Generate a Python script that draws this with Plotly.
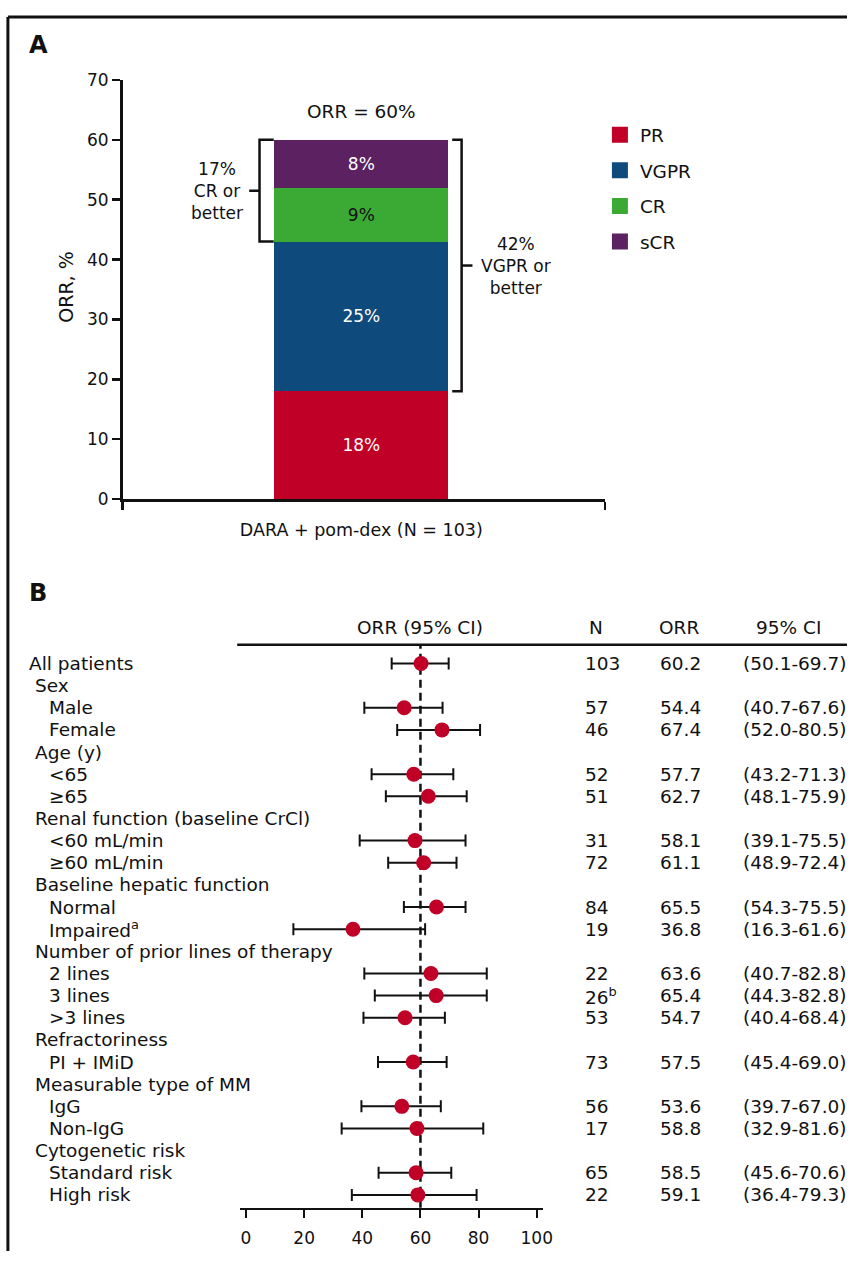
import plotly.graph_objects as go

# ---------------- Panel A data ----------------
resp_cats = ["PR", "VGPR", "CR", "sCR"]
resp_vals = [18, 25, 9, 8]
resp_colors = ["#C00027", "#0F4A7C", "#3AAA35", "#5B2161"]
resp_text_colors = ["white", "white", "#111111", "white"]
arm_label = "DARA + pom-dex (N = 103)"
orr_total = 60
a_yticks = [0, 10, 20, 30, 40, 50, 60, 70]

# ---------------- Panel B data ----------------
row_labels = [
    "All patients", "Sex", "Male", "Female", "Age (y)", "&lt;65", "≥65",
    "Renal function (baseline CrCl)", "&lt;60 mL/min", "≥60 mL/min",
    "Baseline hepatic function", "Normal", "Impaired<sup>a</sup>",
    "Number of prior lines of therapy", "2 lines", "3 lines", "&gt;3 lines",
    "Refractoriness", "PI + IMiD", "Measurable type of MM", "IgG", "Non-IgG",
    "Cytogenetic risk", "Standard risk", "High risk",
]
row_levels = [0, 1, 2, 2, 1, 2, 2, 1, 2, 2, 1, 2, 2, 1, 2, 2, 2, 1, 2, 1, 2, 2, 1, 2, 2]
row_n = ["103", None, "57", "46", None, "52", "51", None, "31", "72", None, "84", "19",
         None, "22", "26<sup>b</sup>", "53", None, "73", None, "56", "17", None, "65", "22"]
row_orr = [60.2, None, 54.4, 67.4, None, 57.7, 62.7, None, 58.1, 61.1, None, 65.5, 36.8,
           None, 63.6, 65.4, 54.7, None, 57.5, None, 53.6, 58.8, None, 58.5, 59.1]
row_lo = [50.1, None, 40.7, 52.0, None, 43.2, 48.1, None, 39.1, 48.9, None, 54.3, 16.3,
          None, 40.7, 44.3, 40.4, None, 45.4, None, 39.7, 32.9, None, 45.6, 36.4]
row_hi = [69.7, None, 67.6, 80.5, None, 71.3, 75.9, None, 75.5, 72.4, None, 75.5, 61.6,
          None, 82.8, 82.8, 68.4, None, 69.0, None, 67.0, 81.6, None, 70.6, 79.3]
b_xticks = [0, 20, 40, 60, 80, 100]
ref_orr = 60

FONT = "DejaVu Sans, Liberation Sans, Arial, sans-serif"
INK = "#111111"
RED = "#C00027"

W, H = 857, 1261


def px_x(p):
    return p / W


def px_y(p):
    return 1 - p / H


A_XR = [-0.99, 1.01]
BAR_W = 0.72
half = BAR_W / 2

fig = go.Figure()

# ---------- Panel A: stacked bar ----------
for cat, val, col, tcol in zip(resp_cats, resp_vals, resp_colors, resp_text_colors):
    fig.add_trace(go.Bar(
        x=[0], y=[val], width=BAR_W, name=cat, marker=dict(color=col, line=dict(width=0)),
        text=[f"{val}%"], textposition="inside", insidetextanchor="middle",
        textfont=dict(color=tcol, size=17, family=FONT), showlegend=False,
        xaxis="x", yaxis="y", hoverinfo="skip",
    ))
# legend entries
for cat, col in zip(resp_cats, resp_colors):
    fig.add_trace(go.Scatter(
        x=[None], y=[None], mode="markers", name=cat, legendgroup=cat,
        marker=dict(symbol="square", size=16, color=col), xaxis="x", yaxis="y",
    ))

# ---------- Panel B: forest ----------
idx = [i for i, v in enumerate(row_orr) if v is not None]
fig.add_trace(go.Scatter(
    x=[row_orr[i] for i in idx], y=idx, mode="markers",
    marker=dict(color=RED, size=15),
    error_x=dict(type="data", symmetric=False,
                 array=[row_hi[i] - row_orr[i] for i in idx],
                 arrayminus=[row_orr[i] - row_lo[i] for i in idx],
                 color=INK, thickness=2, width=6),
    xaxis="x2", yaxis="y2", showlegend=False, hoverinfo="skip",
))

annotations = []
shapes = []

# panel letters
for letter, yc in [("A", 36), ("B", 592)]:
    annotations.append(dict(text=f"<b>{letter}</b>", x=px_x(27), y=px_y(yc), xref="paper",
                            yref="paper", xanchor="left", yanchor="middle", showarrow=False,
                            font=dict(size=24, family=FONT, color=INK)))

# ORR total
annotations.append(dict(text=f"ORR = {orr_total}%", x=0, y=orr_total, xref="x", yref="y",
                        yanchor="bottom", yshift=16, showarrow=False,
                        font=dict(size=18.5, family=FONT, color=INK)))

# brackets
cr_low = resp_vals[0] + resp_vals[1]
vgpr_low = resp_vals[0]
xl_v, xl_a, xl_t = -half - 0.062, -half - 0.003, -half - 0.105
shapes.append(dict(type="path", xref="x", yref="y",
                   path=f"M{xl_a},{orr_total} L{xl_v},{orr_total} L{xl_v},{cr_low} L{xl_a},{cr_low}",
                   line=dict(color=INK, width=2.5)))
shapes.append(dict(type="line", xref="x", yref="y", x0=xl_v, x1=xl_t,
                   y0=(orr_total + cr_low) / 2, y1=(orr_total + cr_low) / 2,
                   line=dict(color=INK, width=2.5)))
annotations.append(dict(text=f"{orr_total - cr_low}%<br>CR or<br>better", x=-0.597,
                        y=(orr_total + cr_low) / 2, xref="x", yref="y", showarrow=False,
                        xanchor="center", yanchor="middle", align="center",
                        font=dict(size=17, family=FONT, color=INK)))
xr_v, xr_a, xr_t = half + 0.056, half + 0.017, half + 0.101
shapes.append(dict(type="path", xref="x", yref="y",
                   path=f"M{xr_a},{orr_total} L{xr_v},{orr_total} L{xr_v},{vgpr_low} L{xr_a},{vgpr_low}",
                   line=dict(color=INK, width=2.5)))
shapes.append(dict(type="line", xref="x", yref="y", x0=xr_v, x1=xr_t,
                   y0=(orr_total + vgpr_low) / 2, y1=(orr_total + vgpr_low) / 2,
                   line=dict(color=INK, width=2.5)))
annotations.append(dict(text=f"{orr_total - vgpr_low}%<br>VGPR or<br>better", x=0.641,
                        y=(orr_total + vgpr_low) / 2, xref="x", yref="y", showarrow=False,
                        xanchor="center", yanchor="middle", align="center",
                        font=dict(size=17, family=FONT, color=INK)))

# y title panel A
annotations.append(dict(text="ORR, %", x=px_x(66), y=px_y(281), xref="paper", yref="paper",
                        textangle=-90, showarrow=False, xanchor="center", yanchor="middle",
                        font=dict(size=19, family=FONT, color=INK)))

# forest headers
hdr_y = px_y(627)
annotations.append(dict(text="ORR (95% CI)", x=ref_orr, y=hdr_y, xref="x2", yref="paper",
                        xanchor="center", yanchor="middle", showarrow=False,
                        font=dict(size=18.5, family=FONT, color=INK)))
for t, xc in [("N", 603), ("ORR", 687), ("95% CI", 798)]:
    annotations.append(dict(text=t, x=px_x(xc), y=hdr_y, xref="paper", yref="paper",
                            xanchor="center", yanchor="middle", showarrow=False,
                            font=dict(size=18.5, family=FONT, color=INK)))
shapes.append(dict(type="line", xref="paper", yref="paper", x0=px_x(240), x1=1,
                   y0=px_y(645), y1=px_y(645), line=dict(color=INK, width=2.5)))

indent = {0: 27, 1: 33, 2: 48}
for i, lab in enumerate(row_labels):
    annotations.append(dict(text=lab, x=px_x(indent[row_levels[i]]), y=i, xref="paper", yref="y2",
                            xanchor="left", yanchor="middle", showarrow=False,
                            font=dict(size=18.5, family=FONT, color=INK)))
    if row_orr[i] is not None:
        for t, xl in [(row_n[i], 590), (f"{row_orr[i]:.1f}", 666),
                      (f"({row_lo[i]:.1f}-{row_hi[i]:.1f})", 750)]:
            annotations.append(dict(text=t, x=px_x(xl), y=i, xref="paper", yref="y2",
                                    xanchor="left", yanchor="middle", showarrow=False,
                                    font=dict(size=18.5, family=FONT, color=INK)))

# reference dashed line
shapes.append(dict(type="line", xref="x2", yref="y2 domain", x0=ref_orr, x1=ref_orr, y0=0, y1=1,
                   line=dict(color=INK, width=2.5, dash="8px,5px"), layer="below"))

# outer frame
shapes.append(dict(type="line", xref="paper", yref="paper", x0=px_x(8), x1=px_x(8),
                   y0=0, y1=px_y(7), line=dict(color=INK, width=3)))
shapes.append(dict(type="line", xref="paper", yref="paper", x0=px_x(8), x1=1,
                   y0=px_y(7), y1=px_y(7), line=dict(color=INK, width=3)))

fig.update_layout(
    width=W, height=H, margin=dict(l=0, r=0, t=0, b=0),
    paper_bgcolor="white", plot_bgcolor="rgba(0,0,0,0)",
    barmode="stack", bargap=0,
    font=dict(family=FONT, size=18, color=INK),
    showlegend=True,
    legend=dict(x=px_x(607), y=px_y(108), xanchor="left", yanchor="top",
                traceorder="grouped", tracegroupgap=8.5,
                font=dict(size=18.5, family=FONT, color=INK),
                bgcolor="rgba(0,0,0,0)", itemclick=False),
    xaxis=dict(domain=[px_x(124), px_x(612)], range=A_XR, showline=True, linewidth=2.5,
               linecolor=INK, tickvals=[0], ticktext=[arm_label], ticks="", showgrid=False,
               zeroline=False, ticklabelstandoff=13, tickfont=dict(size=17.5),
               minor=dict(tickvals=A_XR, ticks="outside", ticklen=8, tickwidth=2.5,
                          tickcolor=INK, showgrid=False),
               anchor="y", fixedrange=True),
    yaxis=dict(domain=[px_y(497), px_y(71)], range=[0, 70], tickvals=a_yticks, showline=True,
               linewidth=2.5, linecolor=INK, ticks="outside", ticklen=8, tickwidth=2.5,
               tickcolor=INK, showgrid=False, zeroline=False, tickfont=dict(size=17),
               anchor="x", fixedrange=True),
    xaxis2=dict(domain=[px_x(243), px_x(549)], range=[-2, 102], tickvals=b_xticks,
                showline=True, linewidth=2.5, linecolor=INK, ticks="outside", ticklen=8,
                tickwidth=2, tickcolor=INK, showgrid=False, zeroline=False,
                tickfont=dict(size=17), ticklabelstandoff=5, anchor="y2", fixedrange=True),
    yaxis2=dict(domain=[px_y(1217), px_y(645)], range=[24.578, -0.844], visible=False,
                showgrid=False, zeroline=False, anchor="x2", fixedrange=True),
    annotations=annotations, shapes=shapes,
)

fig.write_html(
    "out.html",
    config={"displayModeBar": False, "staticPlot": True},
    post_script=("document.body.style.margin='0px';"
                 "document.body.style.overflow='hidden';"
                 "document.documentElement.style.overflow='hidden';"),
)
